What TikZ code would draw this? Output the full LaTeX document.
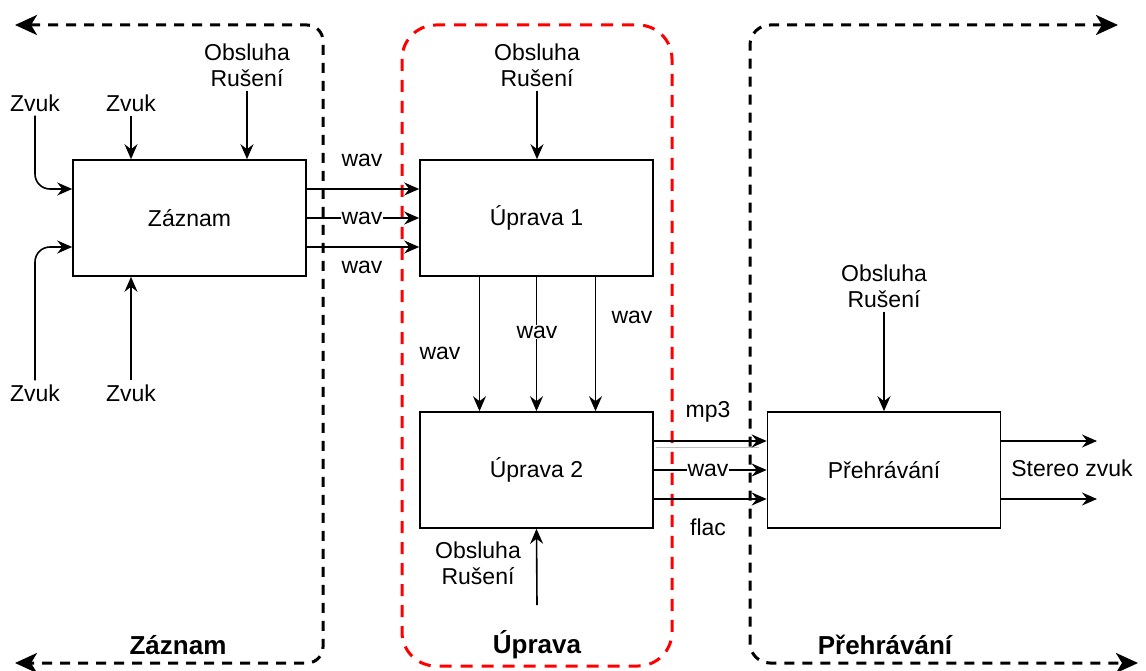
\documentclass[tikz,border=0pt]{standalone}
\usepackage{fontspec}
\setmainfont{Liberation Sans}
\usetikzlibrary{arrows.meta, positioning, calc}
\definecolor{upravared}{HTML}{FF0000}

\begin{document}
\begin{tikzpicture}[x=1pt, y=-1pt, font=\fontsize{23}{26}\selectfont,
  blok/.style={rectangle, draw, line width=1.6pt, minimum width=233pt, minimum height=116pt, inner sep=0pt},
  popis/.style={align=center, inner sep=2pt},
  stitek/.style={fill=white, inner sep=1pt},
  a/.style={-{Stealth[length=15pt, width=13pt, inset=5pt]}, line width=1.6pt},
  oblast/.style={line width=3pt, dash pattern=on 10pt off 8pt, {Stealth[length=22pt, width=20pt, inset=6pt]}-{Stealth[length=22pt, width=20pt, inset=6pt]}},
  nadpis/.style={font=\fontsize{26}{30}\selectfont\bfseries, inner sep=0pt}]
\useasboundingbox (0,0) rectangle (1146,671);

% oblasti
\draw[oblast, rounded corners=16pt] (15,25) -- (323,25) -- (323,663) -- (15,663);
\draw[line width=3pt, dash pattern=on 12pt off 9pt, upravared, rounded corners=34pt] (402,25) rectangle (672,666);
\draw[oblast, rounded corners=20pt] (1118,25) -- (750,25) -- (750,663) -- (1138,663);

% bloky
\node[blok] (zaz) at (189.5,218) {Záznam};
\node[blok] (up1) at (536.5,218) {Úprava 1};
\node[blok] (up2) at (536.5,470) {Úprava 2};
\node[blok] (pre) at (884,470) {Přehrávání};

% vstupy zaznamu
\node[popis] (zv1) at (35,103) {Zvuk};
\node[popis] (zv2) at (131,103) {Zvuk};
\node[popis] (zv3) at (35,393) {Zvuk};
\node[popis] (zv4) at (131,393) {Zvuk};
\node[popis] (ob1) at (247,65) {Obsluha\\Rušení};
\draw[a, rounded corners=15pt] ([yshift=-2pt]zv1.south) |- ([yshift=29pt]zaz.west);
\draw[a, rounded corners=15pt] ([yshift=2pt]zv3.north) |- ([yshift=-29pt]zaz.west);
\draw[a] ([yshift=-2pt]zv2.south) -- (zv2.south |- zaz.north);
\draw[a] ([yshift=2pt]zv4.north) -- (zv4.north |- zaz.south);
\draw[a] ([yshift=-2pt]ob1.south) -- (ob1.south |- zaz.north);

% zaznam -> uprava 1
\foreach \dy in {29,0,-29}
  \draw[a] ([yshift=\dy pt]zaz.east) -- ([yshift=\dy pt]up1.west);
\node[stitek] at (362,160) {wav};
\node[stitek] at (362,218) {wav};
\node[stitek] at (362,267) {wav};

% uprava 1 -> uprava 2
\node[popis] (ob2) at (537,65) {Obsluha\\Rušení};
\draw[a] ([yshift=-2pt]ob2.south) -- (ob2.south |- up1.north);
\foreach \dx in {-57,0,59}
  \draw[a] ([xshift=\dx pt]up1.south) -- ([xshift=\dx pt]up2.north);
\node[stitek] at (440,353) {wav};
\node[stitek] at (537,332) {wav};
\node[stitek] at (632,317) {wav};

% obsluha pod upravou 2
\node[popis] (ob3) at (478,563) {Obsluha\\Rušení};
\coordinate (ob3s) at (537,605);
\draw[a] (ob3s) -- (up2.south);

% uprava 2 -> prehravani
\draw[line width=1pt, black!25] ([xshift=2pt, yshift=23pt]up2.east) -- ([xshift=-8pt, yshift=23pt]pre.west);
\foreach \dy in {29,0,-29}
  \draw[a] ([yshift=\dy pt]up2.east) -- ([yshift=\dy pt]pre.west);
\node[stitek] at (708,412) {mp3};
\node[stitek] at (708,470) {wav};
\node[stitek] at (708,527) {flac};

% prehravani
\node[popis] (ob4) at (884,286) {Obsluha\\Rušení};
\draw[a] ([yshift=-2pt]ob4.south) -- (ob4.south |- pre.north);
\coordinate (vy1) at (1097,441);
\coordinate (vy2) at (1097,499);
\draw[a] ([yshift=29pt]pre.east) -- (vy1);
\draw[a] ([yshift=-29pt]pre.east) -- (vy2);
\node[popis] (ster) at (1072,468) {Stereo zvuk};

% nadpisy oblasti
\node[nadpis] at (178,645) {Záznam};
\node[nadpis] at (537,645) {Úprava};
\node[nadpis] at (885,645) {Přehrávání};
\end{tikzpicture}
\end{document}
